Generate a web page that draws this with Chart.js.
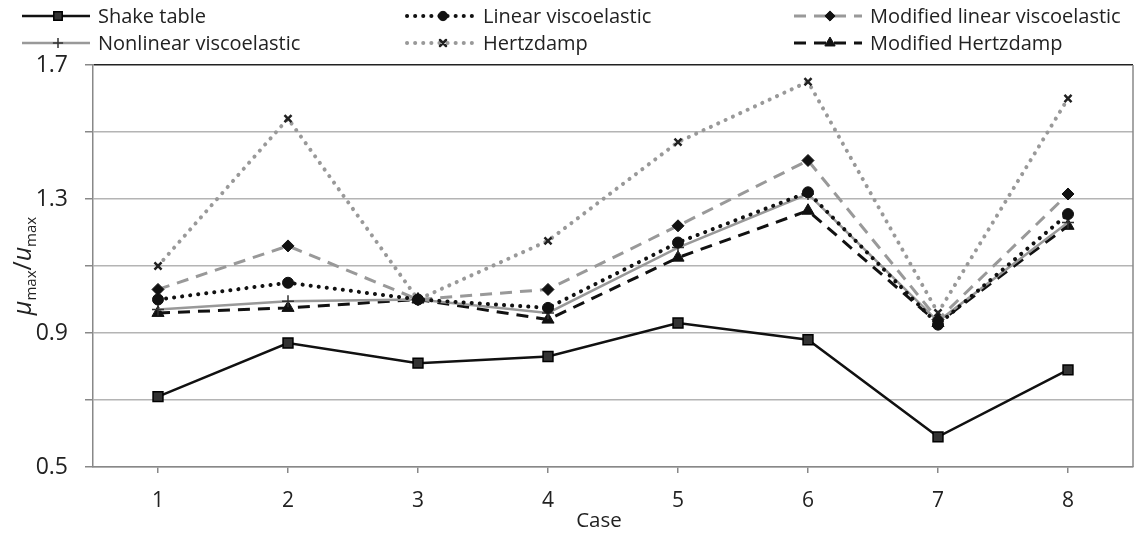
<!DOCTYPE html>
<html>
<head>
<meta charset="utf-8">
<script src="https://cdn.jsdelivr.net/npm/chart.js@4/dist/chart.umd.min.js"></script>
<style>
  html, body { margin: 0; padding: 0; background: #fff; }
  #wrap { width: 1142px; height: 535px; }
</style>
</head>
<body>
<div id="wrap"><canvas id="myChart" width="1142" height="535"></canvas></div>
<script>
const cases = ['1', '2', '3', '4', '5', '6', '7', '8'];

const shakeTable   = [0.71, 0.87, 0.81, 0.83, 0.93, 0.88, 0.59, 0.79];
const linearVisco  = [1.00, 1.05, 1.00, 0.975, 1.17, 1.32, 0.925, 1.255];
const modLinVisco  = [1.03, 1.16, 1.00, 1.03, 1.22, 1.415, 0.94, 1.315];
const nonlinVisco  = [0.97, 0.995, 1.00, 0.96, 1.155, 1.315, 0.935, 1.23];
const hertzdamp    = [1.10, 1.54, 1.00, 1.175, 1.47, 1.65, 0.96, 1.60];
const modHertzdamp = [0.96, 0.975, 1.00, 0.94, 1.125, 1.265, 0.93, 1.22];

const yTickLabels = [0.5, 0.9, 1.3, 1.7];

const FONT = '"Open Sans", Lato, sans-serif';
const DOT = [0.1, 8];
const DASH = [12, 8];

const data = {
  labels: cases,
  datasets: [
    { label: 'Shake table', data: shakeTable, borderColor: '#111', borderWidth: 2.5,
      pointStyle: 'rect', pointRadius: 7, pointBackgroundColor: '#333', pointBorderColor: '#000', pointBorderWidth: 1.5 },
    { label: 'Linear viscoelastic', data: linearVisco, borderColor: '#111', borderWidth: 4,
      borderDash: DOT, borderCapStyle: 'round',
      pointStyle: 'circle', pointRadius: 5.5, pointBackgroundColor: '#111', pointBorderColor: '#111', pointBorderWidth: 1 },
    { label: 'Modified linear viscoelastic', data: modLinVisco, borderColor: '#999', borderWidth: 3,
      borderDash: DASH,
      pointStyle: 'rectRot', pointRadius: 6, pointBackgroundColor: '#111', pointBorderColor: '#111', pointBorderWidth: 1 },
    { label: 'Nonlinear viscoelastic', data: nonlinVisco, borderColor: '#999', borderWidth: 2.5,
      pointStyle: 'cross', pointRadius: 6, pointBackgroundColor: '#333', pointBorderColor: '#333', pointBorderWidth: 1.5 },
    { label: 'Hertzdamp', data: hertzdamp, borderColor: '#999', borderWidth: 4,
      borderDash: DOT, borderCapStyle: 'round',
      pointStyle: 'crossRot', pointRadius: 5, pointBackgroundColor: '#222', pointBorderColor: '#222', pointBorderWidth: 2.5 },
    { label: 'Modified Hertzdamp', data: modHertzdamp, borderColor: '#111', borderWidth: 3,
      borderDash: DASH,
      pointStyle: 'triangle', pointRadius: 7, pointBackgroundColor: '#111', pointBorderColor: '#111', pointBorderWidth: 1 }
  ]
};

// legend in 3 columns, axis titles with subscripts, right border
const extras = {
  id: 'extras',
  afterDraw(chart) {
    const ctx = chart.ctx;
    const a = chart.chartArea;
    ctx.save();

    ctx.strokeStyle = '#888';
    ctx.lineWidth = 1.5;
    ctx.beginPath();
    ctx.moveTo(a.right, a.top);
    ctx.lineTo(a.right, a.bottom);
    ctx.stroke();

    const colX = [98, 483, 870];
    const rowY = [16, 43];
    chart.data.datasets.forEach(function(ds, i) {
      const tx = colX[i % 3];
      const ty = rowY[Math.floor(i / 3)];
      ctx.save();
      ctx.strokeStyle = ds.borderColor;
      ctx.lineWidth = ds.borderWidth;
      ctx.lineCap = ds.borderCapStyle || 'butt';
      ctx.setLineDash(ds.borderDash || []);
      ctx.beginPath();
      ctx.moveTo(tx - 76, ty);
      ctx.lineTo(tx - 8, ty);
      ctx.stroke();
      ctx.setLineDash([]);
      ctx.fillStyle = ds.pointBackgroundColor;
      ctx.strokeStyle = ds.pointBorderColor;
      ctx.lineWidth = ds.pointBorderWidth;
      Chart.helpers.drawPoint(ctx, { pointStyle: ds.pointStyle, radius: ds.pointRadius * 0.85, rotation: 0, borderWidth: ds.pointBorderWidth }, tx - 40, ty);
      ctx.restore();
      ctx.fillStyle = '#222';
      ctx.font = '20px ' + FONT;
      ctx.textAlign = 'left';
      ctx.textBaseline = 'middle';
      ctx.fillText(ds.label, tx, ty + 1);
    });

    // x title
    ctx.fillStyle = '#222';
    ctx.font = '20.5px ' + FONT;
    ctx.textAlign = 'center';
    ctx.textBaseline = 'middle';
    ctx.fillText('Case', 599, 521);

    // y title: μmax/umax
    const parts = [
      ['μ', 'italic 25px ' + FONT, 0],
      ['max', '15px ' + FONT, 5],
      ['/', '25px ' + FONT, 0],
      ['u', 'italic 25px ' + FONT, 0],
      ['max', '15px ' + FONT, 5]
    ];
    let w = 0;
    parts.forEach(function(p) { ctx.font = p[1]; w += ctx.measureText(p[0]).width; });
    ctx.translate(24, (a.top + a.bottom) / 2);
    ctx.rotate(-Math.PI / 2);
    ctx.textAlign = 'left';
    ctx.textBaseline = 'alphabetic';
    let x = -w / 2;
    parts.forEach(function(p) {
      ctx.font = p[1];
      ctx.fillText(p[0], x, 7 + p[2]);
      x += ctx.measureText(p[0]).width;
    });
    ctx.restore();
  }
};

const config = {
  type: 'line',
  data: data,
  options: {
    responsive: false,
    animation: false,
    devicePixelRatio: 1,
    layout: { padding: { top: 65, right: 9, left: 0, bottom: 0 } },
    elements: { line: { tension: 0, fill: false } },
    plugins: { legend: { display: false }, tooltip: { enabled: false } },
    scales: {
      x: {
        offset: true,
        afterFit: function(s) { s.height = 68; },
        grid: { drawOnChartArea: false, offset: false, drawTicks: true, tickLength: 6, color: '#888', lineWidth: 1.5 },
        border: { color: '#888', width: 1.5 },
        ticks: { color: '#222', font: { family: FONT, size: 21 }, padding: 15 }
      },
      y: {
        min: 0.5,
        max: 1.7,
        afterFit: function(s) { s.width = 93; },
        grid: {
          color: function(c) { return Math.abs(c.tick.value - 1.7) < 1e-6 ? '#222' : '#b4b4b4'; },
          lineWidth: 1.5,
          tickColor: '#888',
          tickLength: 8
        },
        border: { color: '#888', width: 1.5 },
        ticks: {
          stepSize: 0.2,
          color: '#222',
          padding: 17,
          font: { family: FONT, size: 23 },
          callback: function(v) {
            const hit = yTickLabels.find(function(t) { return Math.abs(t - v) < 1e-6; });
            return hit !== undefined ? hit.toFixed(1) : '';
          }
        }
      }
    }
  },
  plugins: [extras]
};

const myChart = new Chart(document.getElementById('myChart'), config);
</script>
</body>
</html>
